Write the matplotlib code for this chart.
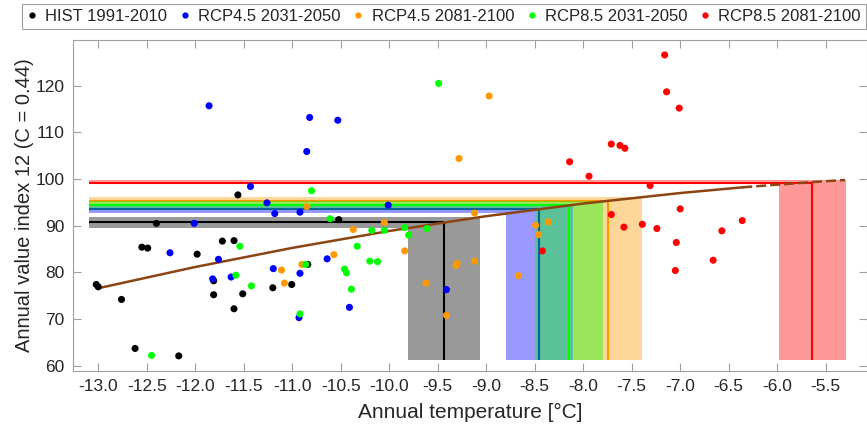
import matplotlib
matplotlib.use("Agg")
import matplotlib.pyplot as plt
from matplotlib.lines import Line2D
from matplotlib.patches import Polygon

plt.rcParams['font.family'] = ['Liberation Sans', 'DejaVu Sans']
plt.rcParams['axes.unicode_minus'] = False

# ---------------- data ----------------
labels = ["HIST 1991-2010", "RCP4.5 2031-2050", "RCP4.5 2081-2100",
          "RCP8.5 2031-2050", "RCP8.5 2081-2100"]
colors = ["#000000", "#0000ff", "#ff9900", "#00ff00", "#ff0000"]

hist_x = [-13.02, -13.00, -12.40, -12.76, -12.55, -12.49, -12.62, -12.17, -11.98, -11.72,
          -11.60, -11.81, -11.81, -11.60, -11.51, -11.56, -11.20, -11.005, -10.84, -10.52]
hist_y = [77.4, 76.9, 90.5, 74.2, 85.4, 85.2, 63.7, 62.1, 83.9, 86.7,
          86.8, 78.2, 75.2, 72.2, 75.4, 96.6, 76.7, 77.4, 81.7, 91.3]

r45a_x = [-11.857, -10.82, -10.53, -10.85, -11.43, -11.26, -11.18, -10.92, -12.01, -10.01,
          -10.64, -11.195, -10.92, -10.93, -10.41, -12.26, -11.76, -11.82, -11.63, -9.41]
r45a_y = [115.7, 113.2, 112.6, 105.9, 98.4, 94.9, 92.6, 92.9, 90.5, 94.4,
          82.9, 80.8, 79.8, 70.3, 72.5, 84.2, 82.8, 78.6, 79.0, 76.3]

r45b_x = [-10.85, -10.37, -10.05, -9.84, -10.57, -11.11, -10.90, -11.08, -9.62, -9.41,
          -9.31, -9.30, -9.12, -9.28, -8.67, -8.49, -8.46, -8.36, -8.97, -9.12]
r45b_y = [94.1, 89.2, 90.7, 84.6, 83.8, 80.5, 81.7, 77.7, 77.7, 70.8,
          81.5, 81.9, 82.4, 104.4, 79.3, 90.1, 88.1, 90.8, 117.8, 92.7]

r85a_x = [-10.80, -10.61, -10.18, -10.05, -9.84, -9.80, -9.61, -10.33, -10.20, -10.12,
          -10.46, -10.44, -10.39, -11.54, -11.42, -10.86, -10.92, -11.58, -12.45, -9.49]
r85a_y = [97.5, 91.5, 89.0, 89.0, 89.6, 88.0, 89.4, 85.6, 82.4, 82.3,
          80.7, 79.9, 76.4, 85.6, 77.1, 81.7, 71.1, 79.4, 62.2, 120.5]

r85b_x = [-7.16, -7.14, -7.01, -7.71, -7.62, -7.57, -7.31, -7.00, -7.71, -7.58,
          -7.39, -7.24, -6.57, -6.36, -8.14, -7.94, -8.42, -7.04, -7.05, -6.66]
r85b_y = [126.6, 118.7, 115.2, 107.5, 107.2, 106.6, 98.6, 93.6, 92.4, 89.7,
          90.3, 89.4, 88.9, 91.1, 103.7, 100.6, 84.6, 86.4, 80.4, 82.6]

series_x = [hist_x, r45a_x, r45b_x, r85a_x, r85b_x]
series_y = [hist_y, r45a_y, r45b_y, r85a_y, r85b_y]

# index level (horizontal line) and its range, temperature (vertical line) and its range
levels = [90.7, 93.6, 95.4, 94.5, 99.25]
level_lo = [89.55, 92.62, 94.5, 93.45, 98.85]
level_hi = [91.86, 94.5, 96.18, 95.25, 99.81]
temps = [-9.44, -8.46, -7.74, -8.15, -5.64]
temp_lo = [-9.81, -8.80, -8.10, -8.50, -5.98]
temp_hi = [-9.06, -8.10, -7.39, -7.80, -5.29]
line_start = -13.1
band_bottom = 61.2

# fitted curve
curve_x = [-13.0, -12.0, -11.0, -10.0, -9.0, -8.0, -7.0, -6.36]
curve_y = [76.6, 81.15, 85.24, 88.87, 92.04, 94.75, 97.0, 98.22]
curve_ext_x = [-6.36, -6.0, -5.65, -5.3]
curve_ext_y = [98.22, 98.8, 99.33, 99.8]
brown = "#8b4513"

xticks = [-13.0, -12.5, -12.0, -11.5, -11.0, -10.5, -10.0, -9.5, -9.0, -8.5,
          -8.0, -7.5, -7.0, -6.5, -6.0, -5.5]
yticks = [60, 70, 80, 90, 100, 110, 120]

# ---------------- figure ----------------
fig = plt.figure(figsize=(8.67, 4.32), dpi=100)
ax = fig.add_axes([73 / 867, 61 / 432, (866.5 - 73) / 867, (371 - 40) / 432])

for i in range(5):
    c = colors[i]
    zb = 1 + 0.1 * i
    poly = [(line_start, level_hi[i]), (temp_hi[i], level_hi[i]), (temp_hi[i], band_bottom),
            (temp_lo[i], band_bottom), (temp_lo[i], level_lo[i]), (line_start, level_lo[i])]
    ax.add_patch(Polygon(poly, closed=True, facecolor=c, alpha=0.4, edgecolor='none', zorder=zb))
    ax.plot([line_start, temps[i]], [levels[i], levels[i]], color=c, lw=1.5, zorder=zb + 0.05,
            solid_capstyle='butt')
    ax.plot([temps[i], temps[i]], [band_bottom, levels[i]], color=c, lw=1.5, zorder=zb + 0.05,
            solid_capstyle='butt')

ax.plot(curve_x, curve_y, color=brown, lw=1.8, zorder=3)
ax.plot(curve_ext_x, curve_ext_y, color=brown, lw=1.8, ls=(0, (4, 1.6)), zorder=3)

for i in range(5):
    ax.scatter(series_x[i], series_y[i], s=26, color=colors[i], edgecolors='none', zorder=4)

ax.set_xlim(-13.26, -5.079)
ax.set_ylim(58.86, 129.8)
ax.set_xticks(xticks)
ax.set_xticklabels([f"{v:.1f}" for v in xticks])
ax.set_yticks(yticks)
ax.set_yticklabels([str(v) for v in yticks])
ax.tick_params(direction='in', length=6, width=0.8, color='#a0a0a0', labelcolor='#262626',
               labelsize=12.5, top=True, right=True, pad=6)
for s in ax.spines.values():
    s.set_color('#a0a0a0')
    s.set_linewidth(0.8)

ax.set_xlabel("Annual temperature [°C]", fontsize=15, color='#262626', labelpad=6)
ax.set_ylabel("Annual value index 12 (C = 0.44)", fontsize=14.5, color='#262626', labelpad=1.5)

handles = [Line2D([], [], ls='none', marker='o', markersize=4.5, color=c, markeredgecolor='none')
           for c in colors]
leg = fig.legend(handles, labels, loc='upper left', ncol=5,
                 bbox_to_anchor=(22 / 867, 1 - 4 / 432),
                 borderaxespad=0, fontsize=12, handlelength=0.6, handletextpad=0.5,
                 columnspacing=0.75, fancybox=False, framealpha=1, edgecolor='#a0a0a0',
                 borderpad=0.3)
leg.get_frame().set_linewidth(0.8)
for t in leg.get_texts():
    t.set_color('#262626')

fig.savefig("out.png", dpi=100)
